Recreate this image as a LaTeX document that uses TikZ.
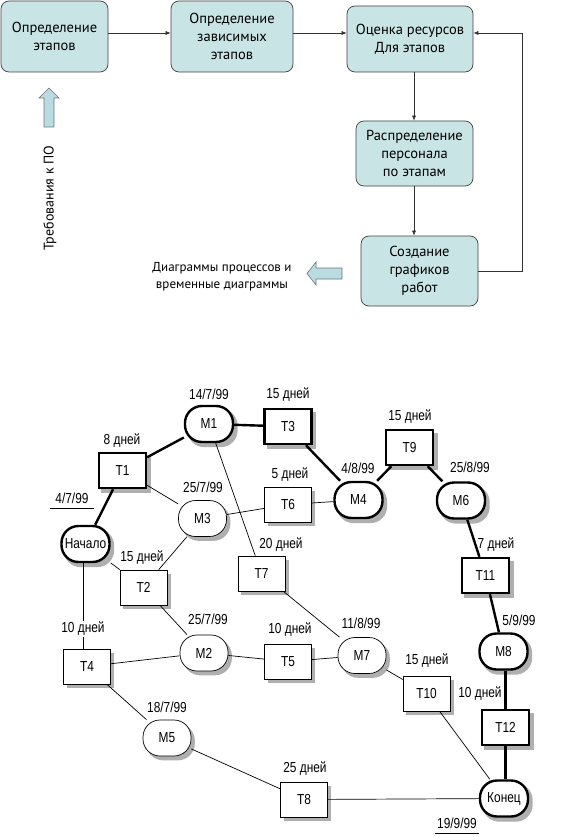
\documentclass[tikz,border=0pt]{standalone}
\usepackage{fontspec}
\setmainfont{PT Sans}
\newfontfamily\narrowfont[FakeStretch=0.82]{Liberation Sans}
\usetikzlibrary{arrows.meta,calc,backgrounds}
\definecolor{stagefill}{RGB}{200,228,229}
\definecolor{arrowfill}{RGB}{184,220,226}
\definecolor{shadowc}{RGB}{175,175,175}
\begin{document}
\begin{tikzpicture}[x=1pt,y=-1pt,
  stage/.style={draw=black!75, fill=stagefill, rounded corners=8pt, line width=0.7pt,
    align=center, inner sep=0pt, font=\fontsize{14.5}{18}\selectfont},
  flow/.style={-{Latex[length=5pt,width=4pt]}, line width=0.5pt, black!80},
  blockarrow/.style={draw=black!55, fill=arrowfill, line width=0.6pt},
  tbase/.style={fill=white, inner sep=0pt, minimum width=47pt, minimum height=35pt,
    font=\narrowfont\fontsize{14.5}{16}\selectfont},
  task/.style={tbase, draw, line width=0.7pt},
  ttask/.style={tbase, draw, line width=2.4pt},
  mile/.style={tbase, draw, line width=0.7pt, rounded corners=17pt, minimum width=48pt, minimum height=36pt},
  tmile/.style={tbase, draw, line width=2.4pt, rounded corners=17pt, minimum width=48pt, minimum height=36pt},
  lbl/.style={inner sep=1pt, font=\narrowfont\fontsize{14.5}{16}\selectfont},
  thin/.style={line width=0.7pt},
  thk/.style={line width=2.4pt}
]
\useasboundingbox (0,0) rectangle (586,837);

% ---------- top process ----------
\node[stage, minimum width=107pt, minimum height=71pt] (b1) at (54.5,36.5) {Определение\\этапов};
\node[stage, minimum width=122pt, minimum height=71pt] (b2) at (232,36.5) {Определение\\зависимых\\этапов};
\node[stage, minimum width=126pt, minimum height=66pt] (b3) at (410,39) {Оценка ресурсов\\Для этапов};
\node[stage, minimum width=117pt, minimum height=65pt] (b4) at (414.5,153.5) {Распределение\\персонала\\по этапам};
\node[stage, minimum width=117pt, minimum height=70pt] (b5) at (419.5,271) {Создание\\графиков\\работ};

\coordinate (y33) at (0,33);
\coordinate (x414) at (414,0);
\coordinate (fb) at (522,33);
\draw[flow] (b1.east |- y33) -- (b2.west |- y33);
\draw[flow] (b2.east |- y33) -- (b3.west |- y33);
\draw[flow] (b3.south -| x414) -- (b4.north -| x414);
\draw[flow] (b4.south -| x414) -- (b5.north -| x414);
\draw[flow] (b5.east) -| (fb) -- (b3.east |- fb);

% block arrows
\draw[blockarrow] (44,127) -- (44,98) -- (39,98) -- (49,88) -- (59,98) -- (54,98) -- (54,127) -- cycle;
\draw[blockarrow] (342,268) -- (316,268) -- (316,262) -- (307,273.5) -- (316,285) -- (316,279) -- (342,279) -- cycle;

\node[rotate=90, inner sep=0pt, font=\fontsize{14}{16}\selectfont] (req) at (50,198) {Требования к ПО};
\node[align=center, inner sep=0pt, font=\fontsize{13}{17}\selectfont] (out) at (222,277) {Диаграммы процессов и\\временные диаграммы};

% ---------- network ----------
\node[tmile] (M1) at (209,424) {M1};
\node[ttask] (T3) at (288,426.5) {T3};
\node[ttask] (T1) at (122.5,470.5) {T1};
\node[tmile] (S) at (85.5,544) {Начало};
\node[mile] (M3) at (202.5,518.5) {M3};
\node[task] (T6) at (288,504.5) {T6};
\node[task] (T2) at (143.5,587.5) {T2};
\node[task] (T7) at (261.5,573.5) {T7};
\node[ttask] (T9) at (409.5,447.5) {T9};
\node[tmile] (M4) at (358.5,500) {M4};
\node[tmile] (M6) at (461,500.5) {M6};
\node[ttask] (T11) at (485.5,575.5) {T11};
\node[task] (T4) at (87,666.5) {T4};
\node[mile] (M2) at (204,653) {M2};
\node[task] (T5) at (288,661.5) {T5};
\node[mile] (M5) at (167,738) {M5};
\node[task] (T8) at (304,799.5) {T8};
\node[mile] (M7) at (362,655.5) {M7};
\node[task] (T10) at (426.5,693.5) {T10};
\node[tmile] (M8) at (503.5,651.5) {M8};
\node[ttask] (T12) at (505.5,727.5) {T12};
\node[tmile] (E) at (504,798.5) {Конец};

% shadows
\begin{pgfonlayer}{background}
\foreach \n in {T1,T2,T3,T4,T5,T6,T7,T8,T9,T10,T11,T12}
  \fill[shadowc] ($(\n.south west)+(3.5,4)$) rectangle ($(\n.north east)+(3.5,4)$);
\foreach \n in {M1,M2,M3,M4,M5,M6,M7,M8,S,E}
  \fill[shadowc, rounded corners=17pt] ($(\n.south west)+(3.5,4)$) rectangle ($(\n.north east)+(3.5,4)$);
\end{pgfonlayer}

% labels
\node[lbl] (lM1) at (209,394) {14/7/99};
\node[lbl] (lT3) at (288,395) {15 дней};
\node[lbl] (lT1) at (122,441) {8 дней};
\node[lbl] (lS) at (72,498) {4/7/99};
\node[lbl] (lM3) at (203,487) {25/7/99};
\node[lbl] (lT6) at (290,475) {5 дней};
\node[lbl] (lT2) at (142,558) {15 дней};
\node[lbl] (lT7) at (281,545) {20 дней};
\node[lbl] (lT9) at (410,417) {15 дней};
\node[lbl] (lM4) at (358,468) {4/8/99};
\node[lbl] (lM6) at (470,467) {25/8/99};
\node[lbl] (lT11) at (496,545) {7 дней};
\node[lbl] (lM2) at (208,619) {25/7/99};
\node[lbl] (lT5) at (290,630) {10 дней};
\node[lbl] (lM5) at (167,707) {18/7/99};
\node[lbl] (lT8) at (305,769) {25 дней};
\node[lbl] (lM7) at (361,623) {11/8/99};
\node[lbl] (lT10) at (427,661) {15 дней};
\node[lbl] (lM8) at (519,620) {5/9/99};
\node[lbl] (lT12) at (480,694) {10 дней};
\node[lbl] (lE) at (457,823) {19/9/99};

\draw[thin] ($(lS.south west)+(-4,4)$) -- ($(lS.south east)+(4,4)$);
\draw[thin] ($(lE.south west)+(-1,4)$) -- ($(lE.south east)+(1,4)$);

% edges (thick)
\draw[thk] (S) -- (T1);
\draw[thk] (T1) -- (M1);
\draw[thk] (M1) -- (T3);
\draw[thk] (T3) -- (M4);
\draw[thk] (M4) -- (T9);
\draw[thk] (T9) -- (M6);
\draw[thk] (M6) -- (T11);
\draw[thk] (T11) -- (M8);
\draw[thk] (M8.south -| T12) -- (T12.north);
\draw[thk] (T12.south) -- (E.north -| T12);
% thin
\draw[thin] (T1) -- (M3);
\draw[thin] (M3) -- (T6);
\draw[thin] (T6) -- (M4);
\draw[thin] (M3) -- (T2);
\draw[thin] (S) -- (T2);
\draw[thin] (M1) -- (T7);
\draw[thin] (T7) -- (M7);
\draw[thin] (T2) -- (M2);
\draw[thin] (T4) -- (M2);
\draw[thin] (M2) -- (T5);
\draw[thin] (T5) -- (M7);
\draw[thin] (T4) -- (M5);
\draw[thin] (M5) -- (T8);
\draw[thin] (T8) -- (E);
\draw[thin] (M7) -- (T10);
\draw[thin] (T10) -- (E);
\coordinate (v4) at (83,0);
\draw[thin] (S.south -| v4) -- (T4.north -| v4);
\node[lbl, fill=white] (lT4) at (83,629) {10 дней};
\end{tikzpicture}
\end{document}
